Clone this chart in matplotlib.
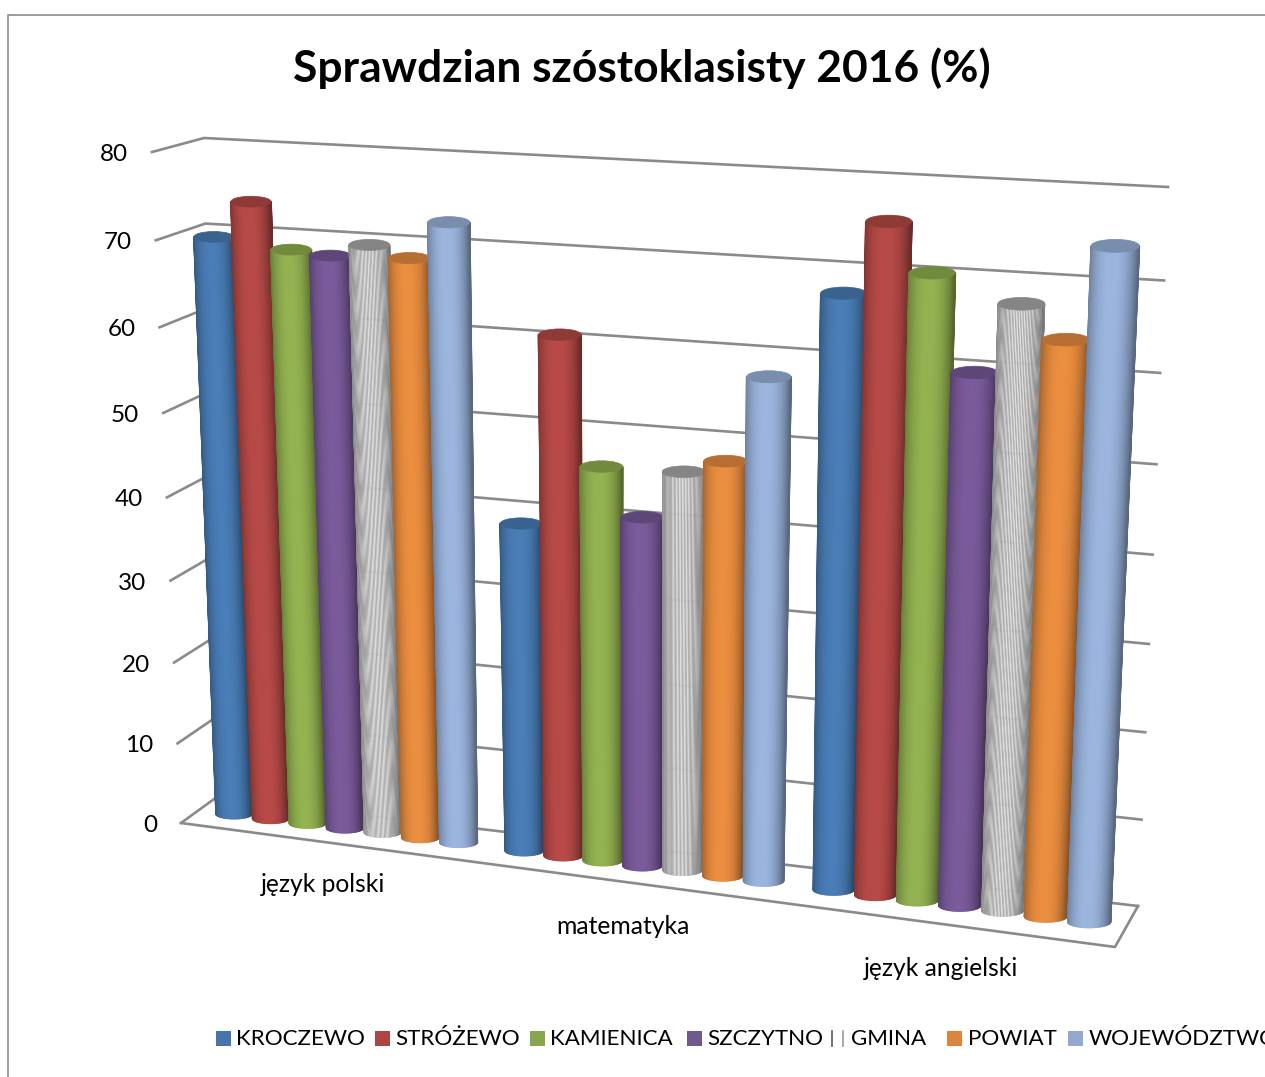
import numpy as np
import matplotlib
matplotlib.use("Agg")
import matplotlib.pyplot as plt
from matplotlib.collections import PolyCollection
from matplotlib.patches import Ellipse, Rectangle

plt.rcParams['font.family'] = ['Lato', 'DejaVu Sans']

title = "Sprawdzian szóstoklasisty 2016 (%)"
categories = ["język polski", "matematyka", "język angielski"]
series = ["KROCZEWO", "STRÓŻEWO", "KAMIENICA", "SZCZYTNO", "GMINA", "POWIAT", "WOJEWÓDZTWO"]
kroczewo = [69.7, 39.2, 67.9]
strozewo = [74.0, 61.2, 75.9]
kamienica = [68.8, 46.6, 70.7]
szczytno = [68.4, 41.2, 60.3]
gmina = [69.9, 46.8, 68.0]
powiat = [68.7, 48.4, 64.5]
wojewodztwo = [73.0, 58.2, 74.7]
yticks = [0, 10, 20, 30, 40, 50, 60, 70, 80]

all_values = [kroczewo, strozewo, kamienica, szczytno, gmina, powiat, wojewodztwo]
colors = ['#477AB2', '#B24845', '#8FAD4E', '#775897', '#A6A6A6', '#E58A3E', '#97B0D8']
legend_colors = ['#4675AB', '#AA4643', '#89A54E', '#71588F', '#FFFFFF', '#DB843D', '#93A9CF']
legend_x = [216, 375, 530, 687, 831, 947, 1068]

# corners in pixels: (u=0,v=0), (u=0,v=80), (u=1,v=0), (u=1,v=80)
front = np.array([[181, 823], [152, 152], [1115, 947], [1146, 207]], float)
back = np.array([[215.5, 798], [204, 138], [1138, 906], [1168, 187]], float)
mid = np.array([[203, 810], [178, 145], [1126.5, 926.5], [1157, 197]], float)
VMAX = 80.
GAP = 0.7  # gap between groups, in bar widths
UNITS = len(categories) * (len(series) + GAP)


def homography(corners):
    src = [(0, 0), (0, VMAX), (1, 0), (1, VMAX)]
    A, b = [], []
    for (u, v), (x, y) in zip(src, corners):
        A.append([u, v, 1, 0, 0, 0, -u*x, -v*x])
        A.append([0, 0, 0, u, v, 1, -u*y, -v*y])
        b += [x, y]
    return np.append(np.linalg.solve(np.array(A), np.array(b)), 1).reshape(3, 3)


H_front = homography(front)
H_back = homography(back)
H_mid = homography(mid)


def project(H, u, v):
    p = H @ np.array([u, v, 1.])
    return p[:2] / p[2]


def shade(color, t):
    # t is -1..1 across the cylinder
    c = np.array(matplotlib.colors.to_rgb(color))
    f = 1.03 - 0.36 * np.abs(t + 0.08) ** 2.4
    return np.clip(c * f, 0, 1)


def cylinder(ax, u, du, value, color, striped=False):
    xb, yb = project(H_mid, u, 0)
    xt, yt = project(H_mid, u, value)
    rb = (project(H_mid, u + du, 0)[0] - project(H_mid, u - du, 0)[0]) / 2 * 0.98
    rt = (project(H_mid, u + du, value)[0] - project(H_mid, u - du, value)[0]) / 2 * 1.04
    k = 0.27
    n = 90 if striped else 36
    th = np.linspace(-np.pi/2, np.pi/2, n + 1)
    polys, cols = [], []
    for i in range(n):
        t1, t2 = th[i], th[i+1]
        polys.append([(xb + rb*np.sin(t1), yb + k*rb*np.cos(t1)),
                      (xb + rb*np.sin(t2), yb + k*rb*np.cos(t2)),
                      (xt + rt*np.sin(t2), yt + k*rt*np.cos(t2)),
                      (xt + rt*np.sin(t1), yt + k*rt*np.cos(t1))])
        c = shade(color, np.sin((t1 + t2) / 2))
        if striped:
            c = np.clip(c * (1.4 if i % 2 else 0.9), 0, 1)
        cols.append(c)
    lw = 0.3 if striped else 1.1
    ax.add_collection(PolyCollection(polys, facecolors=cols, edgecolors=cols, linewidths=lw, zorder=3))
    top = np.array(matplotlib.colors.to_rgb(color)) * 0.8
    ax.add_patch(Ellipse((xt, yt), 2*rt, 2*k*rt, fc=top, ec=top, lw=0.5, zorder=3))


fig = plt.figure(figsize=(12.65, 10.77), dpi=100)
ax = fig.add_axes([0, 0, 1, 1])
ax.set_xlim(0, 1265)
ax.set_ylim(1077, 0)
ax.axis('off')

# chart frame, runs off the right and bottom of the picture
ax.plot([8, 8, 1265], [1077, 15, 15], color='#8C8C8C', lw=1.2)

ax.text(642, 68, title, ha='center', va='center', fontsize=31.9, fontweight='bold', color='black')

grid = '#8A8A8A'
for v in yticks:
    fl = project(H_front, 0, v)
    bl = project(H_back, 0, v)
    br = project(H_back, 1, v)
    ax.plot([fl[0], bl[0], br[0]], [fl[1], bl[1], br[1]], color=grid, lw=1.9, zorder=1)
    ax.text(fl[0] - 24, fl[1] + 2.5, str(v), ha='right', va='center', fontsize=17.5, color='black')
fl, fr, br = project(H_front, 0, 0), project(H_front, 1, 0), project(H_back, 1, 0)
ax.plot([fl[0], fr[0], br[0]], [fl[1], fr[1], br[1]], color=grid, lw=1.9, zorder=1)

du = 0.5 / UNITS
for c in range(len(categories)):
    for i in range(len(series)):
        u = (c * (len(series) + GAP) + GAP / 2 + 0.5 + i) / UNITS
        cylinder(ax, u, du, all_values[i][c], colors[i], striped=series[i] == "GMINA")

cat_xy = [(323, 885), (623, 926), (941, 969)]
for name, (x, y) in zip(categories, cat_xy):
    ax.text(x, y, name, ha='center', va='center', fontsize=17.7, color='black')

for name, x, col in zip(series, legend_x, legend_colors):
    if name == "GMINA":
        ax.plot([x + 1, x + 1], [1031, 1046], color='#666666', lw=1.3)
        ax.plot([x + 12, x + 12], [1031, 1046], color='#999999', lw=1.2)
        tx = x + 20
    else:
        ax.add_patch(Rectangle((x, 1031), 15, 15, fc=col, ec='none'))
        tx = x + 20.5
    ax.text(tx, 1039, name, ha='left', va='center', fontsize=16.1, color='black', clip_on=True)

fig.savefig("out.png", dpi=100)
